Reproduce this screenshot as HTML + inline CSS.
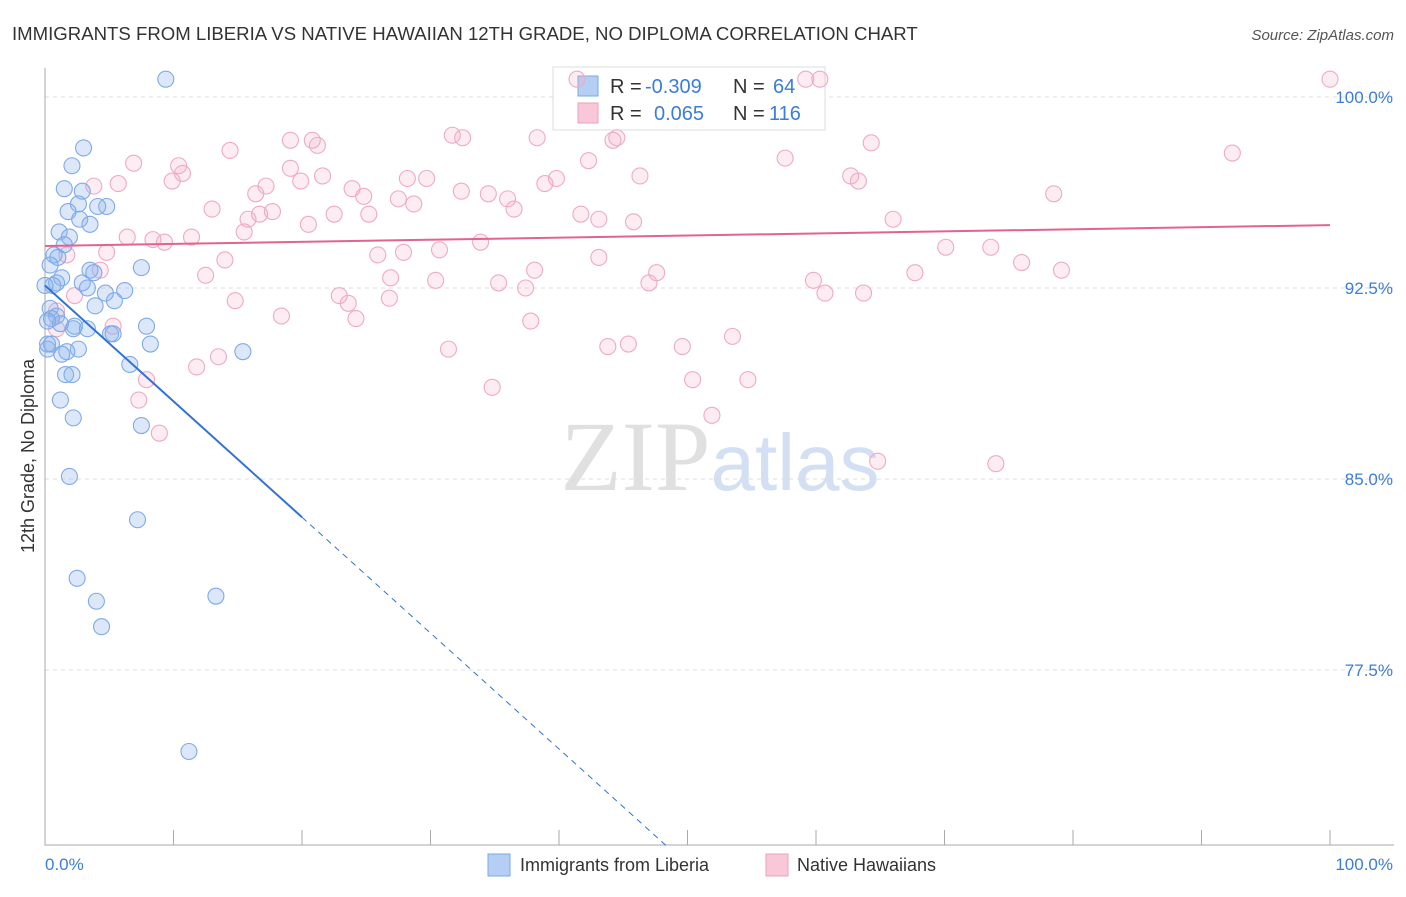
<!DOCTYPE html>
<html><head><meta charset="utf-8"><style>
body{margin:0;background:#fff;font-family:"Liberation Sans",sans-serif;}
</style></head><body>
<svg id="chart" width="1406" height="892" xmlns="http://www.w3.org/2000/svg" style="font-family:'Liberation Sans',sans-serif">
<text x="12" y="40" font-size="18.6" fill="#333">IMMIGRANTS FROM LIBERIA VS NATIVE HAWAIIAN 12TH GRADE, NO DIPLOMA CORRELATION CHART</text>
<text x="1394" y="40" font-size="15" fill="#555" text-anchor="end" font-style="italic">Source: ZipAtlas.com</text>
<text x="720" y="490" font-size="100" fill="#e0e0e0" text-anchor="middle" font-family="Liberation Serif">ZIP<tspan fill="#d3e0f3" font-family="Liberation Sans" font-size="80">atlas</tspan></text>
<text transform="translate(34,456) rotate(-90)" font-size="18" fill="#333" text-anchor="middle">12th Grade, No Diploma</text>
<g id="grid"></g><g id="axes"></g>
<g>
<rect x="553" y="67" width="272" height="63" fill="#fff" stroke="#ddd"/>
<rect x="578" y="76" width="20" height="20" fill="#b5cff4" stroke="#7aa8e8"/>
<text x="610" y="93" font-size="20" fill="#333">R =</text>
<text x="645" y="93" font-size="20" fill="#3b7dd8">-0.309</text>
<text x="733" y="93" font-size="20" fill="#333">N =</text>
<text x="773" y="93" font-size="20" fill="#3b7dd8">64</text>
<rect x="578" y="103" width="20" height="20" fill="#f9c8d8" stroke="#eba0bb"/>
<text x="610" y="120" font-size="20" fill="#333">R =</text>
<text x="654" y="120" font-size="20" fill="#3b7dd8">0.065</text>
<text x="733" y="120" font-size="20" fill="#333">N =</text>
<text x="769" y="120" font-size="20" fill="#3b7dd8">116</text>
</g>
<g id="pts"></g><g id="trend"></g>
<g>
<rect x="488" y="854" width="22" height="22" fill="#b5cff4" stroke="#7aa8e8"/>
<text x="520" y="871" font-size="18" fill="#333">Immigrants from Liberia</text>
<rect x="766" y="854" width="22" height="22" fill="#f9c8d8" stroke="#eba0bb"/>
<text x="797" y="871" font-size="18" fill="#333">Native Hawaiians</text>
</g>
</svg>
<script>
const yTicks=[100,92.5,85,77.5];
const yTickLabels=["100.0%","92.5%","85.0%","77.5%"];
const xTickLabels=["0.0%","100.0%"];
const blueX=[9.4,3.0,2.1,1.5,2.9,4.8,2.6,1.8,4.1,2.7,3.5,1.1,1.9,1.5,0.7,1.0,0.4,7.5,3.5,3.8,1.3,0.9,2.9,3.3,0.6,4.7,6.2,5.4,3.9,0.4,0.9,0.5,1.2,2.3,2.2,3.3,7.9,5.1,5.3,0.5,0.2,8.2,2.6,1.7,1.3,15.4,6.6,1.6,2.1,1.2,2.2,7.5,1.9,7.2,2.5,4.0,13.3,4.4,11.2,0.0,0.2,0.2];
const blueY=[100.7,98.0,97.3,96.4,96.3,95.7,95.8,95.5,95.7,95.2,95.0,94.7,94.5,94.2,93.8,93.7,93.4,93.3,93.2,93.1,92.9,92.7,92.7,92.5,92.6,92.3,92.4,92.0,91.8,91.7,91.4,91.3,91.1,91.0,90.9,90.9,91.0,90.7,90.7,90.3,90.1,90.3,90.1,90.0,89.9,90.0,89.5,89.1,89.1,88.1,87.4,87.1,85.1,83.4,81.1,80.2,80.4,79.2,74.3,92.6,91.2,90.3];
const pinkX=[100,41.4,59.2,60.3,31.7,32.5,38.3,44.5,44.2,19.1,20.8,21.2,14.4,64.3,92.4,6.9,10.4,57.6,42.3,10.7,9.9,46.3,62.7,63.3,21.6,19.1,28.2,29.7,5.7,3.8,17.2,19.9,23.9,24.8,32.4,34.5,36.0,38.9,39.8,78.5,16.4,27.5,28.7,36.5,13.0,22.5,25.2,16.7,17.7,15.8,41.7,43.1,45.8,66.0,15.5,9.3,6.4,8.4,11.4,20.5,33.9,1.7,4.8,14.0,25.9,27.9,30.7,70.1,73.6,76.0,79.1,4.3,12.5,38.1,43.1,47.6,67.7,59.8,30.4,35.3,37.4,47.0,26.9,2.3,14.8,22.9,23.6,26.8,60.7,63.7,18.4,24.2,37.8,5.3,53.5,43.8,45.4,49.6,31.4,13.5,11.8,7.9,50.4,54.7,34.8,7.3,51.9,8.9,64.8,74.0,0.9,0.9];
const pinkY=[100.7,100.7,100.7,100.7,98.5,98.4,98.4,98.4,98.3,98.3,98.3,98.1,97.9,98.2,97.8,97.4,97.3,97.6,97.5,97.0,96.7,96.9,96.9,96.7,96.9,97.2,96.8,96.8,96.6,96.5,96.5,96.7,96.4,96.1,96.3,96.2,96.0,96.6,96.8,96.2,96.2,96.0,95.8,95.6,95.6,95.4,95.4,95.4,95.5,95.2,95.4,95.2,95.1,95.2,94.7,94.3,94.5,94.4,94.5,95.0,94.3,93.8,93.9,93.6,93.8,93.9,94.0,94.1,94.1,93.5,93.2,93.2,93.0,93.2,93.7,93.1,93.1,92.8,92.8,92.7,92.5,92.7,92.9,92.2,92.0,92.2,91.9,92.1,92.3,92.3,91.4,91.3,91.2,91.0,90.6,90.2,90.3,90.2,90.1,89.8,89.4,88.9,88.9,88.9,88.6,88.1,87.5,86.8,85.7,85.6,90.9,91.6];
const blueTrend=[92.6,-0.455];   // intercept, slope
const pinkTrend=[94.15,0.0082];

const NS="http://www.w3.org/2000/svg";
const X0=45,X1=1330,YB=845;
const sx=v=>X0+(v/100)*(X1-X0);
const sy=v=>97+(100-v)*(191/7.5);
function mk(tag,attrs,parent){const e=document.createElementNS(NS,tag);for(const k in attrs)e.setAttribute(k,attrs[k]);parent.appendChild(e);return e;}
const grid=document.getElementById('grid'),axes=document.getElementById('axes'),pts=document.getElementById('pts'),tr=document.getElementById('trend');
yTicks.forEach((t,i)=>{
 const l=mk('line',{x1:X0,x2:1394,y1:sy(t),y2:sy(t),stroke:'#ddd','stroke-dasharray':'4,4'},grid);
 
 
 const tx=mk('text',{x:1393,y:sy(t)+6,'font-size':17,fill:'#3b7dd8','text-anchor':'end'},grid);
 tx.textContent=yTickLabels[i];
 
 
});
const ax=mk('path',{d:`M${X0},68V${YB}H1394`,stroke:'#aaa',fill:'none'},axes);


for(let i=0;i<=10;i++){
 const t=mk('line',{x1:sx(i*10),x2:sx(i*10),y1:830,y2:YB,stroke:'#aaa'},axes);
 
 
}
[[0,'start',X0],[1,'end',1393]].forEach(([i,a,x])=>{
 const t=mk('text',{x:x,y:870,'font-size':17,fill:'#3b7dd8','text-anchor':a},axes);
 t.textContent=xTickLabels[i];
 
 
});
pinkX.forEach((v,i)=>{
 const c=mk('circle',{cx:sx(v),cy:sy(pinkY[i]),r:8,fill:'rgba(245,170,198,0.22)',stroke:'#efaac3','stroke-width':1.1},pts);
 
 
});
blueX.forEach((v,i)=>{
 const c=mk('circle',{cx:sx(v),cy:sy(blueY[i]),r:8,fill:'rgba(140,180,240,0.3)',stroke:'#7eaae8','stroke-width':1.1},pts);
 
 
});
const bf=x=>blueTrend[0]+blueTrend[1]*x, pf=x=>pinkTrend[0]+pinkTrend[1]*x;
const b1=mk('line',{x1:sx(0),y1:sy(bf(0)),x2:sx(20),y2:sy(bf(20)),stroke:'#2f72d8','stroke-width':2},tr);


const xe=(70.5-blueTrend[0])/blueTrend[1];
const b2=mk('line',{x1:sx(20),y1:sy(bf(20)),x2:sx(xe),y2:sy(bf(xe)),stroke:'#2f72d8','stroke-width':1,'stroke-dasharray':'6,5'},tr);


const p1=mk('line',{x1:sx(0),y1:sy(pf(0)),x2:sx(100),y2:sy(pf(100)),stroke:'#e0648f','stroke-width':2},tr);


</script>
</body></html>
